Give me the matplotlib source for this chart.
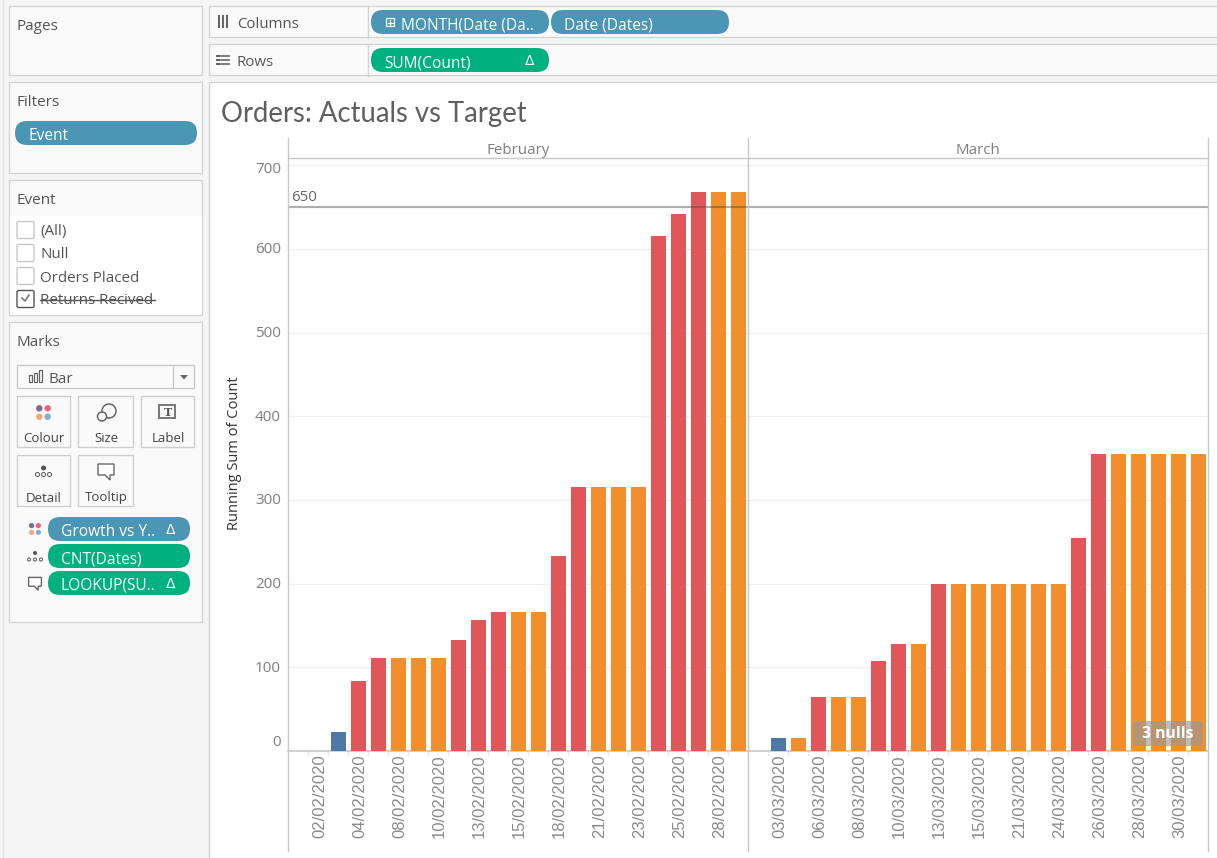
import numpy as np
import matplotlib
matplotlib.use("Agg")
import matplotlib.pyplot as plt
from matplotlib.patches import FancyBboxPatch, Rectangle, Circle, Polygon
from matplotlib.transforms import ScaledTranslation

nan = float("nan")
W, H = 1217, 858

# ---- data ----
months = ["February", "March"]
feb_labels = ["", "02/02/2020", "", "04/02/2020", "", "08/02/2020", "", "10/02/2020", "",
              "13/02/2020", "", "15/02/2020", "", "18/02/2020", "", "21/02/2020", "",
              "23/02/2020", "", "25/02/2020", "", "28/02/2020", ""]
feb_values = [nan, nan, 23, 84, 111, 111, 111, 111, 133, 156, 166, 166, 166, 233, 315, 315,
              315, 315, 615, 642, 668, 668, 668]
feb_status = ["", "", "start", "up", "up", "flat", "flat", "flat", "up", "up", "up", "flat", "flat",
              "up", "up", "flat", "flat", "flat", "up", "up", "up", "flat", "flat"]
mar_labels = ["", "03/03/2020", "", "06/03/2020", "", "08/03/2020", "", "10/03/2020", "",
              "13/03/2020", "", "15/03/2020", "", "21/03/2020", "", "24/03/2020", "",
              "26/03/2020", "", "28/03/2020", "", "30/03/2020", ""]
mar_values = [nan, 15.5, 15.5, 64.5, 64.5, 64.5, 107.5, 128, 128, 200, 200, 200, 200, 200, 200,
              200, 255, 355, 355, 355, 355, 355, 355]
mar_status = ["", "start", "flat", "up", "flat", "flat", "up", "up", "flat", "up", "flat", "flat",
              "flat", "flat", "flat", "flat", "up", "up", "flat", "flat", "flat", "flat", "flat"]
y_ticks = [0, 100, 200, 300, 400, 500, 600, 700]
target = 650
status_colors = {"start": "#4e79a7", "up": "#e15759", "flat": "#f28e2b", "": "#ffffff"}

UI = "Open Sans"
BLUE_PILL = "#4b96b4"
GREEN_PILL = "#00b180"
BORDER = "#d4d4d4"
TXT = "#555555"
PILL_SIZE = 11.2

fig = plt.figure(figsize=(W / 100, H / 100), dpi=100, facecolor="#f5f5f5")


def overlay(z):
    a = fig.add_axes([0, 0, 1, 1], zorder=z)
    a.set_xlim(0, W)
    a.set_ylim(H, 0)
    a.axis("off")
    a.patch.set_alpha(0)
    return a


bg = overlay(0)
fg = overlay(5)


def rect(a, x0, y0, x1, y1, fc="#fafafa", ec=BORDER, lw=1.0, z=1, alpha=None):
    a.add_patch(Rectangle((x0 - 0.7, y0 - 0.7), x1 - x0, y1 - y0, fc=fc, ec=ec, lw=lw, zorder=z, alpha=alpha))


def txt(a, x, y, s, size=11, color=TXT, ha="left", va="center", **kw):
    kw.setdefault("family", UI)
    a.text(x, y + 8, s, fontsize=size, color=color, ha=ha, va=va, zorder=6, **kw)


def pill(a, x0, y0, x1, y1, fc):
    r = (y1 - y0) / 2
    a.add_patch(FancyBboxPatch((x0, y0), x1 - x0, y1 - y0, boxstyle=f"round,pad=0,rounding_size={r}",
                               fc=fc, ec="none", zorder=4))


def dots4(a, cx, cy, r=3.2, d=4.2):
    for dx, dy, c in [(-d, -d, "#7b6a96"), (d, -d, "#f0617a"), (-d, d, "#f2a97a"), (d, d, "#8aa9d6")]:
        a.add_patch(Circle((cx + dx, cy + dy), r, fc=c, ec="none", zorder=5))


def detail_icon(a, cx, cy, r=2.0):
    a.add_patch(Circle((cx, cy - 4), r + .5, fc="#555555", ec="none", zorder=5))
    for dx in (-6, 0, 6):
        a.add_patch(Circle((cx + dx, cy + 2.5), r, fc="white", ec="#666666", lw=.8, zorder=5))


def bubble(a, cx, cy, s=1.0):
    pts = [(-8, -7), (8, -7), (8, 4), (4, 4), (4, 9), (-1, 4), (-8, 4)]
    a.add_patch(Polygon([(cx + p * s, cy + q * s) for p, q in pts], closed=True, fc="white",
                        ec="#666666", lw=1.0, zorder=5))


# ---- window chrome ----
rect(bg, 210, 83, W + 5, H + 5, fc="white", z=0.5)
bg.plot([2.5, 2.5], [0, H], color="#e2e2e2", lw=1, zorder=1)
rect(bg, 9.5, 6.5, 203, 76)
rect(bg, 9.5, 82.5, 203, 174)
rect(bg, 9.5, 180.5, 203, 316)
rect(bg, 10.5, 216.5, 202.5, 315.5, fc="white", ec="none", z=1.5)
rect(bg, 9.5, 322.5, 203, 623)
rect(bg, 209.5, 6.5, W + 5, 38)
rect(bg, 209.5, 44.5, W + 5, 76)
bg.plot([368, 368], [6, 37.5], color=BORDER, lw=1, zorder=2)
bg.plot([368, 368], [44, 75.5], color=BORDER, lw=1, zorder=2)

txt(bg, 17, 19, "Pages")
txt(bg, 17, 95, "Filters")
txt(bg, 17, 193, "Event")
txt(bg, 17, 335, "Marks")
txt(bg, 237, 17, "Columns", size=10.8)
txt(bg, 237, 55, "Rows", size=10.8)
for i in range(3):
    bg.plot([219 + i * 4.2] * 2, [19, 27], color="#666666", lw=1.5, zorder=5)
    bg.plot([219 + i * 4.2] * 2, [16, 17.5], color="#666666", lw=1.5, zorder=5)
    bg.plot([217, 219], [55.5 + i * 4] * 2, color="#666666", lw=1.5, zorder=5)
    bg.plot([221, 229], [55.5 + i * 4] * 2, color="#666666", lw=1.2, zorder=5)

# shelf pills
pill(bg, 371, 10, 549, 34, BLUE_PILL)
pill(bg, 551, 10, 729, 34, BLUE_PILL)
pill(bg, 371, 48, 549, 72, GREEN_PILL)
txt(bg, 401, 17, "MONTH(Date (Da..", color="white", size=PILL_SIZE)
txt(bg, 564, 17, "Date (Dates)", color="white", size=PILL_SIZE)
txt(bg, 384, 55, "SUM(Count)", color="white", size=PILL_SIZE)
txt(bg, 530, 53, "Δ", color="white", ha="center", size=10, family="DejaVu Sans")
rect(bg, 386.7, 18.7, 394.7, 26.7, fc="none", ec="white", lw=.9, z=5)
bg.plot([387.5, 392.5], [22.5, 22.5], color="white", lw=.9, zorder=5)
bg.plot([390, 390], [20, 25], color="white", lw=.9, zorder=5)
pill(bg, 15, 121, 197, 145, BLUE_PILL)
txt(bg, 28, 128, "Event", color="white", size=PILL_SIZE)

# event filter list
for y, s in [(230, "(All)"), (253, "Null"), (276, "Orders Placed"), (299, "Returns Recived")]:
    bg.add_patch(FancyBboxPatch((17, y - 8.5), 17, 17, boxstyle="round,pad=0,rounding_size=1.5",
                                fc="white", ec="#555555" if s.startswith("Ret") else "#c8c8c8", lw=1, zorder=4))
    txt(bg, 40, y - 6, s, size=10.9)
bg.plot([22, 25, 29], [298, 301, 295], color="#777777", lw=1.2, zorder=5)
bg.plot([40, 155], [299.5, 299.5], color="#555555", lw=1, zorder=7)

# marks card
rect(bg, 17.5, 365.5, 194.5, 388.5, fc="#fafafa", ec="#c8c8c8")
bg.plot([172.5, 172.5], [365, 388], color="#c8c8c8", lw=1, zorder=3)
bg.add_patch(Polygon([(180, 375), (188, 375), (184, 379.5)], closed=True, fc="#666666", ec="none", zorder=5))
for x0, h in [(29.5, 7), (34.5, 9), (39.5, 12)]:
    rect(bg, x0, 383 - h, x0 + 3, 383, fc="none", ec="#666666", lw=.9, z=5)
txt(bg, 48, 371.5, "Bar")
for x0, x1, y0, y1, s in [(17.5, 70.5, 396.5, 447.5, "Colour"), (78.5, 133.5, 396.5, 447.5, "Size"),
                          (141.5, 194.5, 396.5, 447.5, "Label"), (17.5, 70.5, 455.5, 506.5, "Detail"),
                          (78.5, 133.5, 455.5, 506.5, "Tooltip")]:
    rect(bg, x0, y0, x1, y1, fc="#fafafa", ec="#cfcfcf", z=2)
    txt(bg, (x0 + x1) / 2, y1 - 16.5, s, ha="center", size=9.5, color="#444444")
dots4(bg, 43.5, 412.5)
bg.add_patch(Circle((109, 411), 7, fc="none", ec="#666666", lw=1.1, zorder=5))
bg.add_patch(Circle((102, 416.5), 4.5, fc="#fafafa", ec="#666666", lw=1.1, zorder=5))
rect(bg, 160, 406, 176, 419, fc="none", ec="#777777", lw=1.4, z=5)
bg.text(167.5, 412, "T", ha="center", va="center", fontsize=8, color="#555555", family="DejaVu Serif",
        weight="bold", zorder=6)
detail_icon(bg, 43.5, 472)
bubble(bg, 106, 471)

# marks pills
pill(bg, 48, 517, 190, 541, BLUE_PILL)
pill(bg, 48, 544, 190, 568, GREEN_PILL)
pill(bg, 48, 571, 190, 595, GREEN_PILL)
txt(bg, 61, 524, "Growth vs Y..", color="white", size=PILL_SIZE)
txt(bg, 61, 551, "CNT(Dates)", color="white", size=PILL_SIZE)
txt(bg, 61, 578, "LOOKUP(SU..", color="white", size=PILL_SIZE)
txt(bg, 171, 522, "Δ", color="white", ha="center", size=10, family="DejaVu Sans")
txt(bg, 171, 576, "Δ", color="white", ha="center", size=10, family="DejaVu Sans")
dots4(bg, 35, 529, r=2.6, d=3.4)
detail_icon(bg, 35, 557, r=1.5)
bubble(bg, 35, 583, s=.8)

# title, axis title and headers
txt(bg, 221, 106, "Orders: Actuals vs Target", size=19.8, color="#5f5f5f", family="Lato")
txt(bg, 234, 445, "Running Sum of Count", size=10.5, color="#333333", ha="center", rotation=90)
for x, name in zip((518, 978), months):
    txt(bg, x, 142, name, size=10.9, color="#7f7f7f", ha="center")

# ---- chart panes ----
PX_TOP, PX_BOTTOM = 158.5, 751.0
Y_MAX = (PX_BOTTOM - PX_TOP) / 0.837


def pane(x0, x1, labels, values, status, left):
    ax = fig.add_axes([x0 / W, 1 - PX_BOTTOM / H, (x1 - x0) / W, (PX_BOTTOM - PX_TOP) / H], zorder=2)
    ax.patch.set_alpha(0)
    pos = np.arange(len(values))
    ax.bar(pos, values, width=0.75, color=[status_colors[s] for s in status], zorder=3)
    ax.axhline(target, color="#4d4d4d", alpha=0.45, lw=1.5, zorder=4)
    ax.set_xlim(-0.5, len(values) - 0.5)
    ax.set_ylim(0, Y_MAX)
    ax.set_yticks(y_ticks)
    ax.yaxis.grid(True, color="#f0f0f0", lw=1, zorder=0)
    ax.set_axisbelow(True)
    ax.set_xticks(pos + 0.5, minor=False)
    ax.set_xticklabels([])
    ax.tick_params(axis="x", length=3, color="#e6e6e6", width=1)
    for p, lab in zip(pos, labels):
        if lab:
            ax.annotate(lab, (p, 0), xytext=(1, -2.4), textcoords="offset points", xycoords=("data", "data"),
                        rotation=90, ha="center", va="top", fontsize=12, color="#8a8a8a",
                        family="Liberation Sans", annotation_clip=False)
    for s in ("top", "right", "left"):
        ax.spines[s].set_visible(False)
    ax.spines["bottom"].set_color("#c8c8c8")
    ax.spines["bottom"].set_linewidth(1.2)
    ax.tick_params(axis="y", length=0, labelleft=left, pad=5)
    if left:
        for t, lab in zip(y_ticks, ax.get_yticklabels()):
            lab.set_family(UI)
            lab.set_fontsize(11)
            lab.set_color("#7f7f7f")
            dy = 1
            if t == 0:
                lab.set_va("bottom")
            elif t == 700:
                lab.set_va("top")
                dy = 3
            lab.set_transform(lab.get_transform() + ScaledTranslation(0, dy / 100, fig.dpi_scale_trans))
        ax.annotate(str(target), (0, target), xytext=(2, 1.5), textcoords="offset points",
                    xycoords=("axes fraction", "data"), fontsize=10.8, color="#666666", family=UI, va="bottom")
    return ax


ax_feb = pane(288, 748, feb_labels, feb_values, feb_status, True)
ax_mar = pane(748, 1208, mar_labels, mar_values, mar_status, False)

# frame lines around panes
for x in (288, 748, 1208):
    fg.plot([x, x], [138, 851], color="#c8c8c8", lw=1.0, zorder=3)
fg.plot([288, 1208], [158, 158], color="#c8c8c8", lw=1.0, zorder=3)

# null indicator
fg.add_patch(FancyBboxPatch((1133, 721), 70, 25, boxstyle="round,pad=0,rounding_size=2",
                            fc="#999999", ec="none", alpha=0.65, zorder=4))
txt(fg, 1168, 726, "3 nulls", size=11.3, color="white", ha="center", weight="bold")

fig.savefig("out.png", dpi=100, facecolor=fig.get_facecolor())
